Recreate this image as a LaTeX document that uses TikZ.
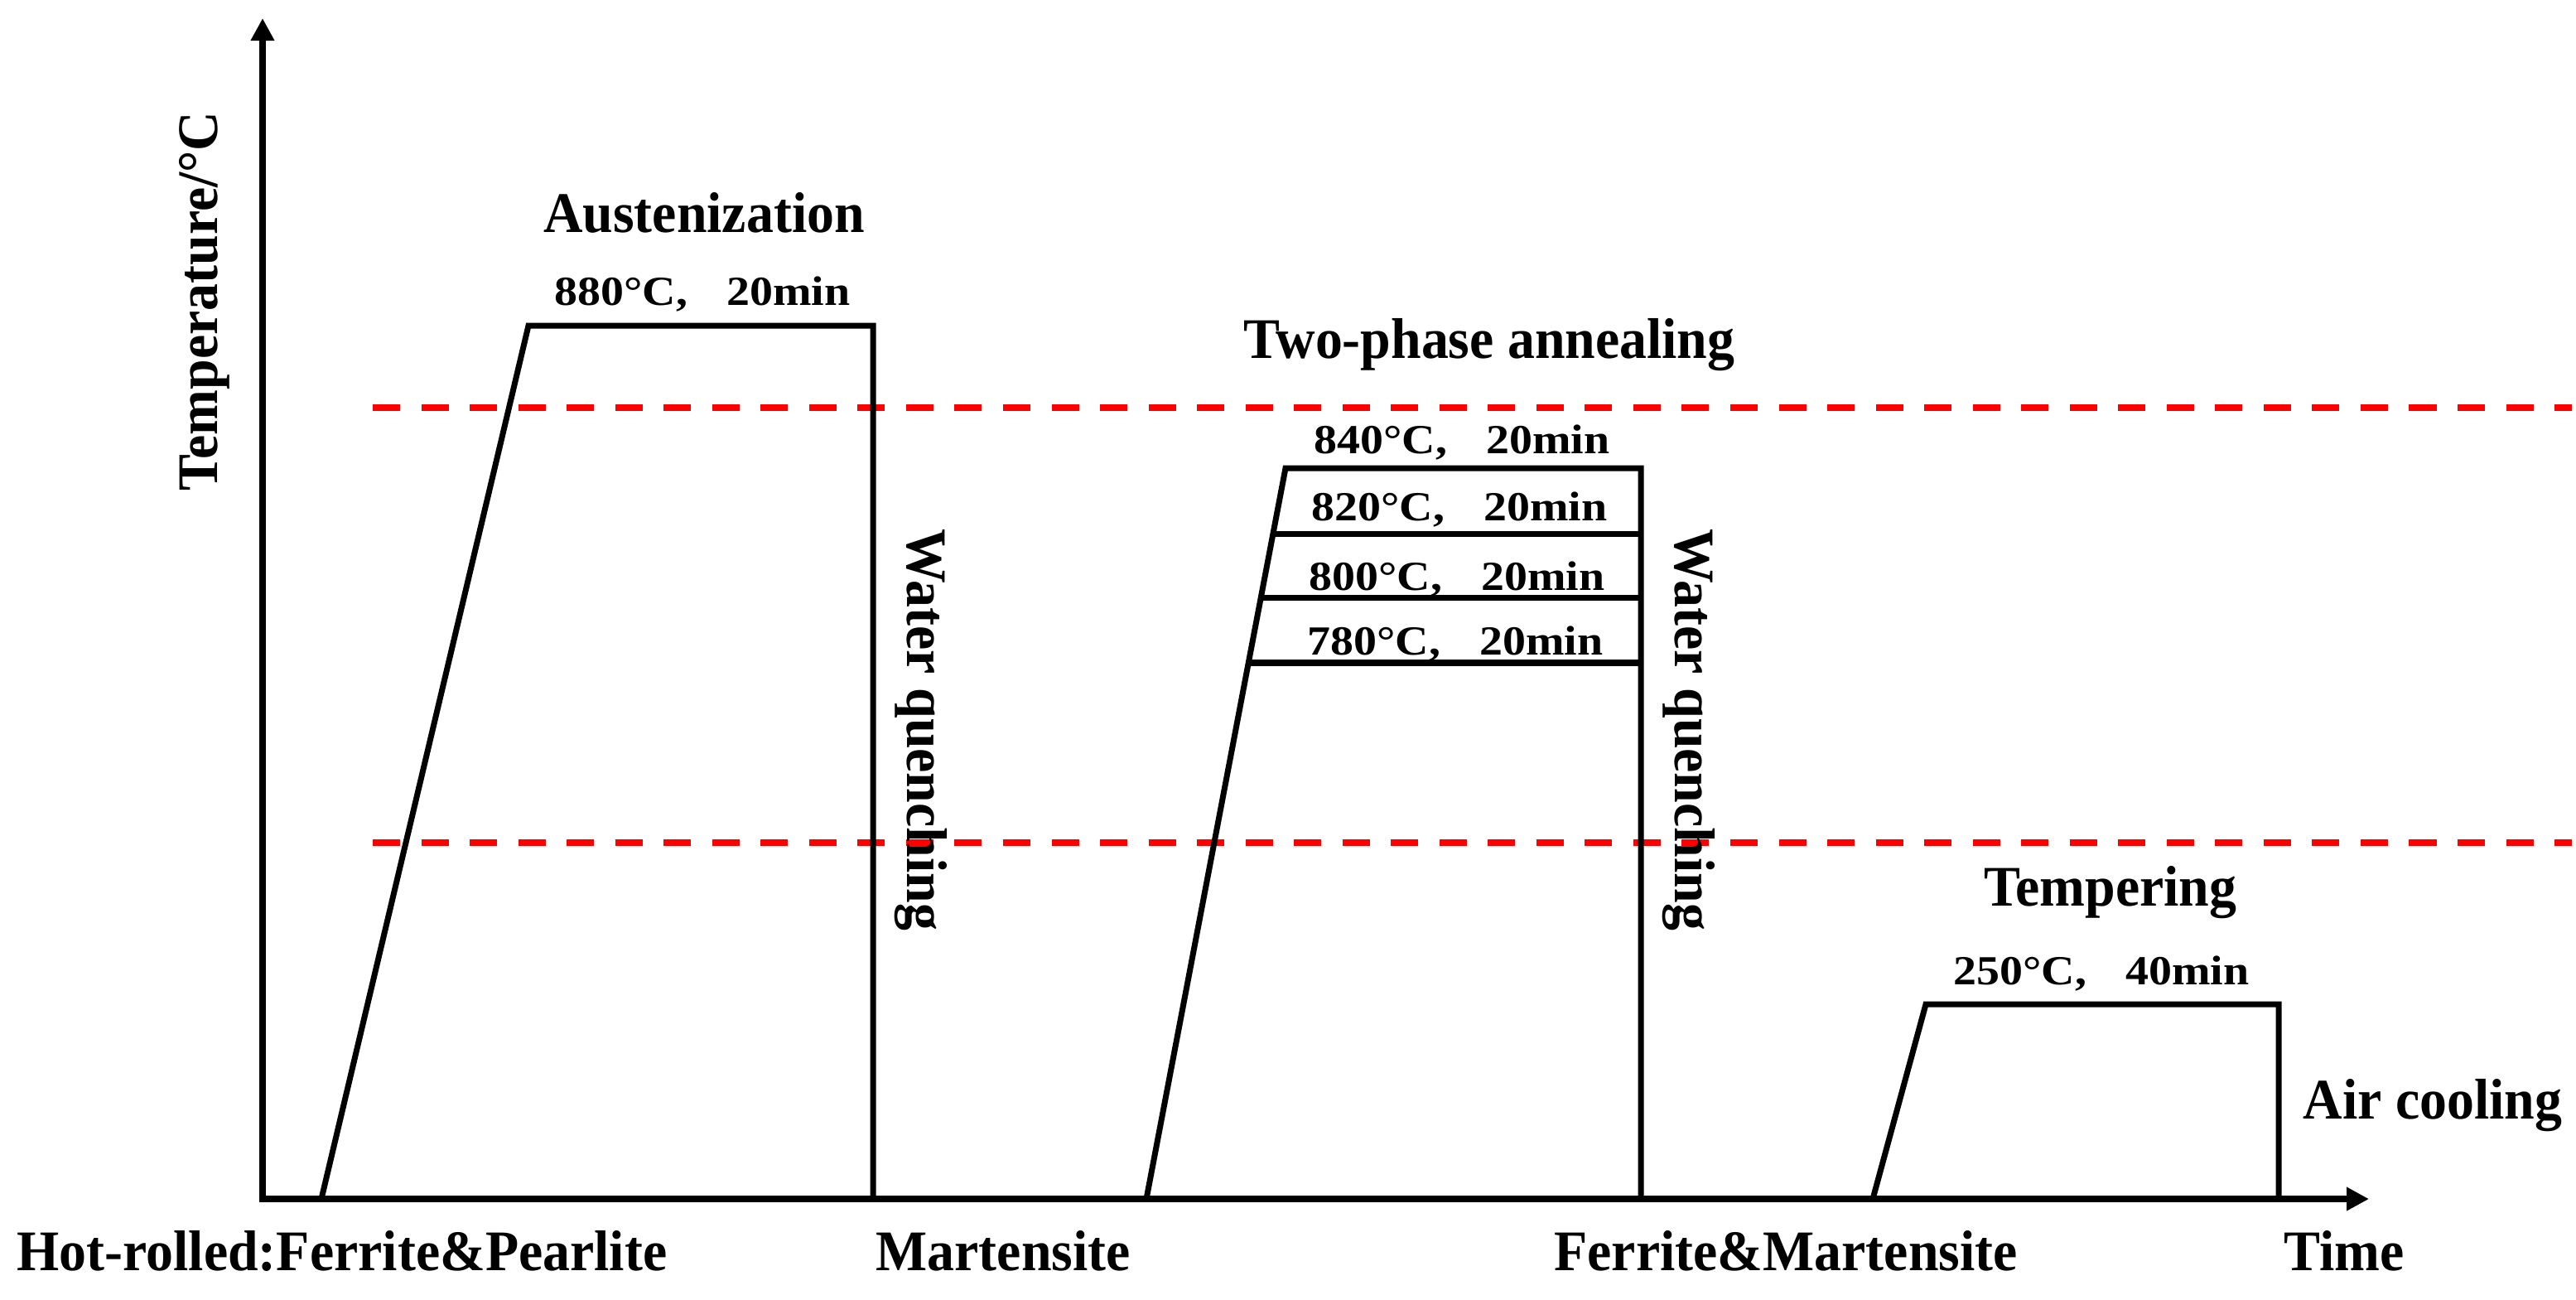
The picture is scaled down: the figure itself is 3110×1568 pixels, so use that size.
\documentclass[tikz,border=0pt]{standalone}
\usepackage{fontspec}
\setmainfont{Liberation Serif}[FakeStretch=0.95]
\newfontfamily\tempfont[FakeStretch=1.12]{Liberation Serif}
\usetikzlibrary{arrows.meta,calc}
\begin{document}
\begin{tikzpicture}[x=0.01cm,y=-0.01cm,
  prof/.style={line width=0.07cm, line join=miter},
  axisline/.style={line width=0.072cm, line join=miter,
    {Triangle[length=0.27cm,width=0.27cm]}-{Triangle[length=0.27cm,width=0.27cm]}},
  reddash/.style={red, line width=0.08cm, dash pattern=on 0.33cm off 0.255cm},
  lab/.style={font=\bfseries\fontsize{19.7pt}{23pt}\selectfont, inner sep=0pt},
  tlab/.style={font=\tempfont\bfseries\fontsize{14.2pt}{17pt}\selectfont, inner sep=0pt},
]
\useasboundingbox (0,0) rectangle (3110,1568);

% axes
\coordinate (O) at (317,1447);
\coordinate (Ytip) at (317,22);
\coordinate (Xtip) at (2860,1447);
\draw[axisline] (Ytip) -- (O) -- (Xtip);

% red dashed lines
\coordinate (D1s) at (450,492);
\coordinate (D1e) at (3105,492);
\coordinate (D2s) at (450,1017);
\coordinate (D2e) at (3105,1017);
\draw[reddash] (D1s) -- (D1e);
\draw[reddash] (D2s) -- (D2e);

% austenization
\coordinate (A1) at (388,1447);
\coordinate (A2) at (638,393);
\coordinate (A3) at (1054,393);
\coordinate (A4) at (1054,1447);
\draw[prof] (A1) -- (A2) -- (A3) -- (A4);

% two-phase annealing
\coordinate (B1) at (1384,1447);
\coordinate (B2) at (1552,565);
\coordinate (B3) at (1981,565);
\coordinate (B4) at (1981,1447);
\draw[prof] (B1) -- (B2) -- (B3) -- (B4);
\coordinate (L1) at ($(B1)!0.9104!(B2)$);
\coordinate (L2) at ($(B1)!0.8231!(B2)$);
\coordinate (L3) at ($(B1)!0.7336!(B2)$);
\draw[prof] (L1) -- (L1 -| B3);
\draw[prof] (L2) -- (L2 -| B3);
\draw[prof] (L3) -- (L3 -| B3);

% tempering
\coordinate (C1) at (2261,1447);
\coordinate (C2) at (2325,1212);
\coordinate (C3) at (2751,1212);
\coordinate (C4) at (2751,1447);
\draw[prof] (C1) -- (C2) -- (C3) -- (C4);

% labels
\node[lab, rotate=90, anchor=base west] (ylab) at (262,593) {Temperature/°C};
\node[lab, anchor=base] (aust) at (850,280) {Austenization};
\node[tlab, anchor=base] (t880) at (848,368) {880°C,\hspace{0.95em}20min};
\node[lab, anchor=base] (twop) at (1798,432) {Two-phase annealing};
\node[tlab, anchor=base] (t840) at (1765,547) {840°C,\hspace{0.95em}20min};
\node[tlab, anchor=base] (t820) at (1762,628) {820°C,\hspace{0.95em}20min};
\node[tlab, anchor=base] (t800) at (1759,712) {800°C,\hspace{0.95em}20min};
\node[tlab, anchor=base] (t780) at (1757,790) {780°C,\hspace{0.95em}20min};
\node[lab, rotate=-90, anchor=base west] (wq1) at (1095,638) {Water quenching};
\node[lab, rotate=-90, anchor=base west] (wq2) at (2022,638) {Water quenching};
\node[lab, anchor=base] (temp) at (2548,1093) {Tempering};
\node[tlab, anchor=base] (t250) at (2537,1188) {250°C,\hspace{0.95em}40min};
\node[lab, anchor=base west] (air) at (2780,1350) {Air cooling};
\node[lab, anchor=base west] (hot) at (20,1533) {Hot-rolled:Ferrite\&Pearlite};
\node[lab, anchor=base west] (mart) at (1057,1533) {Martensite};
\node[lab, anchor=base] (fm) at (2156,1533) {Ferrite\&Martensite};
\node[lab, anchor=base] (time) at (2830,1533) {Time};
\end{tikzpicture}
\end{document}
